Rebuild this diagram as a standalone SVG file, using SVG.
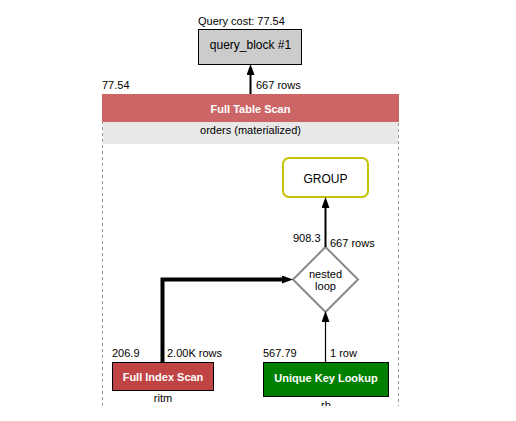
<svg xmlns="http://www.w3.org/2000/svg" width="516" height="421" viewBox="0 0 516 421">
<defs>
<style>
text{font-family:"Liberation Sans",Arial,sans-serif;font-size:11px;fill:#000}
.big{font-size:12px}
.bw{font-weight:bold;fill:#fff}
.mid{text-anchor:middle}
.edge{fill:none;stroke:#000}
</style>
<marker id="ah" viewBox="0 0 11 8" markerWidth="11" markerHeight="8" refX="0" refY="4" orient="auto" markerUnits="userSpaceOnUse">
<path d="M0,0 L11,4 L0,8 z" fill="#000"/>
</marker>
<clipPath id="cut"><rect x="0" y="0" width="516" height="406"/></clipPath>
</defs>
<rect width="516" height="421" fill="#fff"/>

<g id="container">
<path d="M102.5,406 V94.5 H398.5 V406" fill="none" stroke="#999" stroke-dasharray="3,3"/>
</g>

<g id="query_block">
<text x="198" y="24.5">Query cost: 77.54</text>
<rect x="198.5" y="29.5" width="103" height="35" fill="#ccc" stroke="#000"/>
<text class="big mid" x="250.5" y="48.5">query_block #1</text>
</g>

<g id="full_table_scan">
<rect x="102" y="94" width="297" height="28" fill="#cc6666"/>
<rect x="103" y="122" width="295" height="22" fill="#e8e8e8"/>
<text class="bw mid" x="250.5" y="112.5">Full Table Scan</text>
<text class="mid" x="250.5" y="134">orders (materialized)</text>
<text x="102" y="89">77.54</text>
</g>

<g id="group">
<rect x="283" y="158" width="85" height="39" rx="6" ry="6" fill="#fff" stroke="#c4c400" stroke-width="2"/>
<text class="big mid" x="325.5" y="183">GROUP</text>
</g>

<g id="nested_loop">
<polygon points="325.5,247 358,279.5 325.5,312 293,279.5" fill="#fff" stroke="#888" stroke-width="2"/>
<text class="mid" x="325.5" y="278">nested</text>
<text class="mid" x="325.5" y="289.5">loop</text>
<text x="293" y="242">908.3</text>
</g>

<g id="full_index_scan">
<rect x="112.5" y="362.5" width="101" height="28" fill="#c04444" stroke="#000"/>
<text class="bw mid" x="163" y="381">Full Index Scan</text>
<text class="mid" x="163" y="402">ritm</text>
<text x="112" y="356.5">206.9</text>
</g>

<g id="unique_key_lookup">
<rect x="263.5" y="362.5" width="125" height="34" fill="#008000" stroke="#000"/>
<text class="bw mid" x="326" y="381.5">Unique Key Lookup</text>
<text class="mid" x="326" y="409" clip-path="url(#cut)">rb</text>
<text x="263" y="356.5">567.79</text>
</g>

<g id="connectors">
<path class="edge" d="M250.5,94 V75" stroke-width="2" marker-end="url(#ah)"/>
<text x="256" y="89">667 rows</text>
<path class="edge" d="M325.5,247 V208" stroke-width="2" marker-end="url(#ah)"/>
<text x="330" y="246.5">667 rows</text>
<path class="edge" d="M162.5,362 V279.5 H282" stroke-width="4" stroke-linejoin="miter" marker-end="url(#ah)"/>
<text x="167" y="356.5">2.00K rows</text>
<path class="edge" d="M325.5,362 V322" stroke-width="1.2" marker-end="url(#ah)"/>
<text x="330" y="356.5">1 row</text>
</g>
</svg>
